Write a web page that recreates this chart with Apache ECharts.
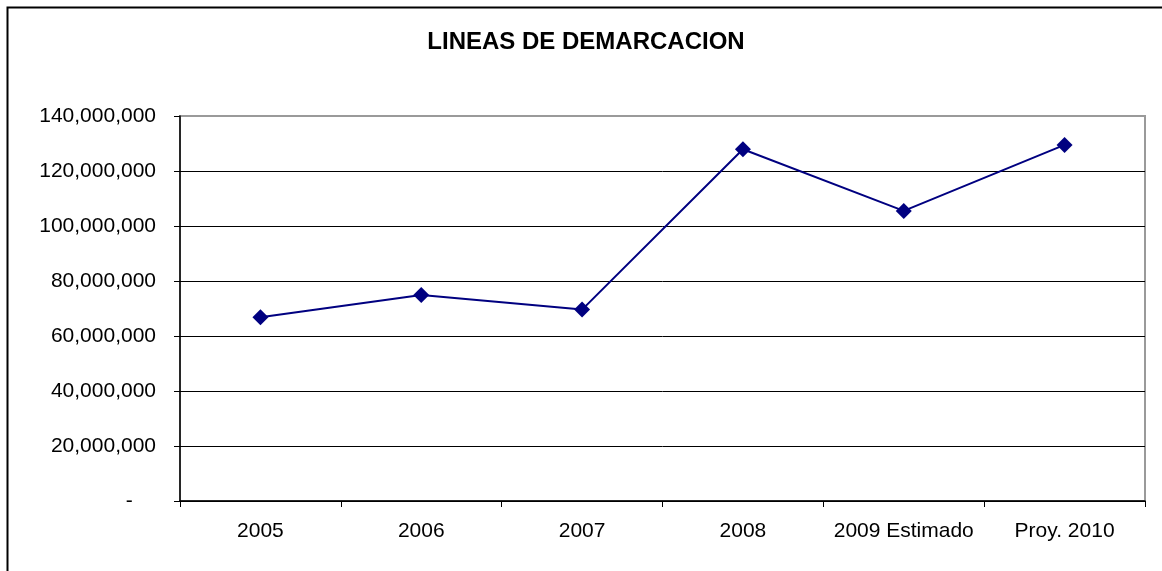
<!DOCTYPE html>
<html>
<head>
<meta charset="utf-8">
<title>LINEAS DE DEMARCACION</title>
<script src="https://cdn.jsdelivr.net/npm/echarts@6/dist/echarts.min.js"></script>
<style>
  html, body { margin: 0; padding: 0; background: #fff; }
  #main { width: 1162px; height: 571px; }
</style>
</head>
<body>
<div id="main"></div>
<script>
  // datos
  var years = ['2005', '2006', '2007', '2008', '2009 Estimado', 'Proy. 2010'];
  var montos = [66800000, 74900000, 69600000, 127900000, 105500000, 129500000];
  var yTicks = [0, 20000000, 40000000, 60000000, 80000000, 100000000, 120000000, 140000000];

  var font = '"Liberation Sans", Arial, sans-serif';

  function fmt(v) {
    if (v === 0) return '-    ';
    return String(v).replace(/\B(?=(\d{3})+(?!\d))/g, ',');
  }

  // la linea de arriba (max) es gris como el borde del area
  var splitColors = yTicks.map(function (t, i) {
    return i === yTicks.length - 1 ? '#9a9a9a' : '#000';
  });

  var chartDom = document.getElementById('main');
  var myChart = echarts.init(chartDom);
  var option;

  option = {
    animation: false,
    backgroundColor: '#fff',
    title: {
      text: 'LINEAS DE DEMARCACION',
      left: 581,
      top: 25,
      textAlign: 'center',
      textStyle: { fontFamily: font, fontSize: 24, fontWeight: 'bold', color: '#000' }
    },
    graphic: [
      {
        type: 'polyline',
        silent: true,
        shape: { points: [[7.5, 571], [7.5, 7.5], [1162, 7.5]] },
        style: { stroke: '#000', lineWidth: 2, fill: null }
      }
    ],
    grid: {
      left: 180,
      right: 17,
      top: 116,
      bottom: 70,
      show: true,
      borderColor: '#9a9a9a',
      borderWidth: 2,
      backgroundColor: '#fff'
    },
    xAxis: {
      type: 'category',
      data: years,
      boundaryGap: true,
      axisLine: { show: true, lineStyle: { color: '#000', width: 1.5 } },
      axisTick: { show: true, interval: 0, length: 6, alignWithLabel: false, lineStyle: { color: '#000' } },
      axisLabel: { interval: 0, margin: 20, color: '#000', fontFamily: font, fontSize: 21 },
      splitLine: { show: false }
    },
    yAxis: {
      type: 'value',
      min: 0,
      max: 140000000,
      interval: 20000000,
      axisLine: { show: true, lineStyle: { color: '#000', width: 1.5 } },
      axisTick: { show: true, length: 6, lineStyle: { color: '#000' } },
      axisLabel: { margin: 24, color: '#000', fontFamily: font, fontSize: 21, formatter: fmt },
      splitLine: { show: true, lineStyle: { color: splitColors, width: 1 } }
    },
    series: [
      {
        type: 'line',
        data: montos,
        symbol: 'diamond',
        symbolSize: 16,
        showAllSymbol: true,
        lineStyle: { color: '#000080', width: 2 },
        itemStyle: { color: '#000080' }
      }
    ]
  };

  option && myChart.setOption(option);
</script>
</body>
</html>
